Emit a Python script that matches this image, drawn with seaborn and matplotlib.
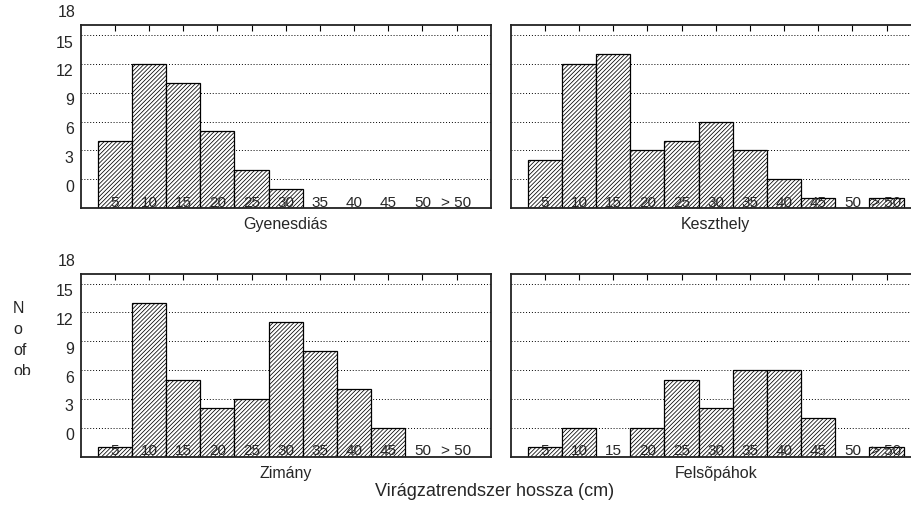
import numpy as np
import matplotlib
matplotlib.use("Agg")
import matplotlib.pyplot as plt
import matplotlib.transforms as mtransforms
import seaborn as sns

# Bin labels (flower-stalk length classes, cm)
bins = ["5", "10", "15", "20", "25", "30", "35", "40", "45", "50", "> 50"]

# Counts per site
gyenesdias = [7, 15, 13, 8, 4, 2, 0, 0, 0, 0, 0]
keszthely = [5, 15, 16, 6, 7, 9, 6, 3, 1, 0, 1]
zimany = [1, 16, 8, 5, 6, 14, 11, 7, 3, 0, 0]
felsopahok = [1, 3, 0, 3, 8, 5, 9, 9, 4, 0, 1]

site_names = ["Gyenesdiás", "Keszthely", "Zimány", "Felsõpáhok"]

# Statistica-style y ticks: gridlines every 3, labels shifted by one step
ytick_pos = [3, 6, 9, 12, 15, 18]
ytick_labels = ["0", "3", "6", "9", "12", "15"]

sns.set_style("white")
plt.rcParams["font.family"] = ["Liberation Sans", "DejaVu Sans"]
plt.rcParams["hatch.linewidth"] = 0.55

W, H = 911, 520
fig = plt.figure(figsize=(W / 100, H / 100), dpi=100)

# axes boxes in pixels: left, top, width, height
boxes = [(80.7, 25, 410, 183), (510.7, 25, 410, 183),
         (80.7, 273.5, 410, 183), (510.7, 273.5, 410, 183)]
data = [gyenesdias, keszthely, zimany, felsopahok]


def draw_panel(ax, counts, name, show_y):
    sns.barplot(x=bins, y=counts, ax=ax, color="white", edgecolor="black",
                linewidth=0.9, width=1.0, hatch="////////", saturation=1)
    ax.set_xlim(-1, 11)
    ax.set_ylim(0, 19.06)
    ax.set_xlabel("")
    ax.set_ylabel("")

    ax.set_xticks(range(len(bins)))
    ax.set_xticklabels([])
    ax.tick_params(axis="x", top=True, bottom=False, direction="in",
                   length=4, width=0.8, color="black")

    ax.set_yticks(ytick_pos)
    ax.yaxis.grid(True, linestyle=(0, (1, 2)), color="black", linewidth=0.7)
    ax.set_axisbelow(True)
    ax.tick_params(axis="y", length=0, pad=5, labelsize=11.5)
    if show_y:
        ax.set_yticklabels(ytick_labels)
        off = mtransforms.ScaledTranslation(0, -6.5 / 100, fig.dpi_scale_trans)
        for lab in ax.get_yticklabels():
            lab.set_transform(lab.get_transform() + off)
        ax.text(-0.012, 21, "18", transform=ax.get_yaxis_transform() + off,
                ha="right", va="center", fontsize=11.5, clip_on=False)
    else:
        ax.set_yticklabels([])

    for s in ax.spines.values():
        s.set_visible(True)
        s.set_color("#222222")
        s.set_linewidth(1.3)

    # bin labels drawn inside the plot, along the bottom
    tr = mtransforms.offset_copy(ax.get_xaxis_transform(), fig=fig, y=1.2, units="dots")
    for i, b in enumerate(bins):
        ax.text(i, 0, b, transform=tr, ha="center", va="baseline",
                fontsize=11, zorder=5)

    ax.text(0.5, -0.05, name, transform=ax.transAxes, ha="center", va="top",
            fontsize=11.5)


for k, (l, t, w, h) in enumerate(boxes):
    ax = fig.add_axes([l / W, 1 - (t + h) / H, w / W, h / H])
    draw_panel(ax, data[k], site_names[k], show_y=(k % 2 == 0))

# clipped vertical y label, as in the original export
ylab = fig.text(13 / W, 1 - 301 / H, "N\no\nof\nob", ha="left", va="top",
                fontsize=11.5, linespacing=1.5)
clip = mtransforms.TransformedBbox(
    mtransforms.Bbox.from_extents(0, 1 - 375 / H, 60 / W, 1), fig.transFigure)
ylab.set_clip_box(clip)
ylab.set_clip_on(True)

fig.text(495 / W, 1 - 491 / H, "Virágzatrendszer hossza (cm)", ha="center",
         va="center", fontsize=13)

fig.savefig("out.png", dpi=100)
